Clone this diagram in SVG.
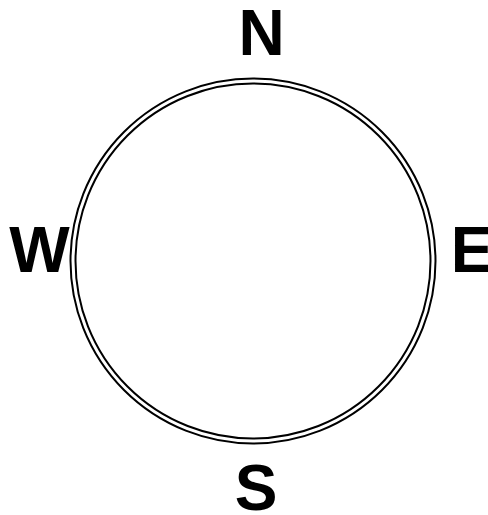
<svg xmlns="http://www.w3.org/2000/svg" width="488" height="515" viewBox="0 0 488 515">
  <style>
    .ring { fill: none; stroke: #000; stroke-width: 2; }
    .lbl { font-family: "Liberation Sans", Arial, sans-serif; font-weight: bold; font-size: 64px; fill: #000; text-anchor: middle; }
  </style>
  <rect width="488" height="515" fill="#fff"/>
  <g id="compass-ring">
    <circle class="ring" cx="253" cy="261" r="182.5"/>
    <circle class="ring" cx="253" cy="261" r="177.5"/>
  </g>
  <g id="label-N"><text class="lbl" x="261.5" y="55">N</text></g>
  <g id="label-W"><text class="lbl" x="39.5" y="272">W</text></g>
  <g id="label-E"><text class="lbl" x="472" y="272">E</text></g>
  <g id="label-S"><text class="lbl" x="256" y="510">S</text></g>
</svg>
